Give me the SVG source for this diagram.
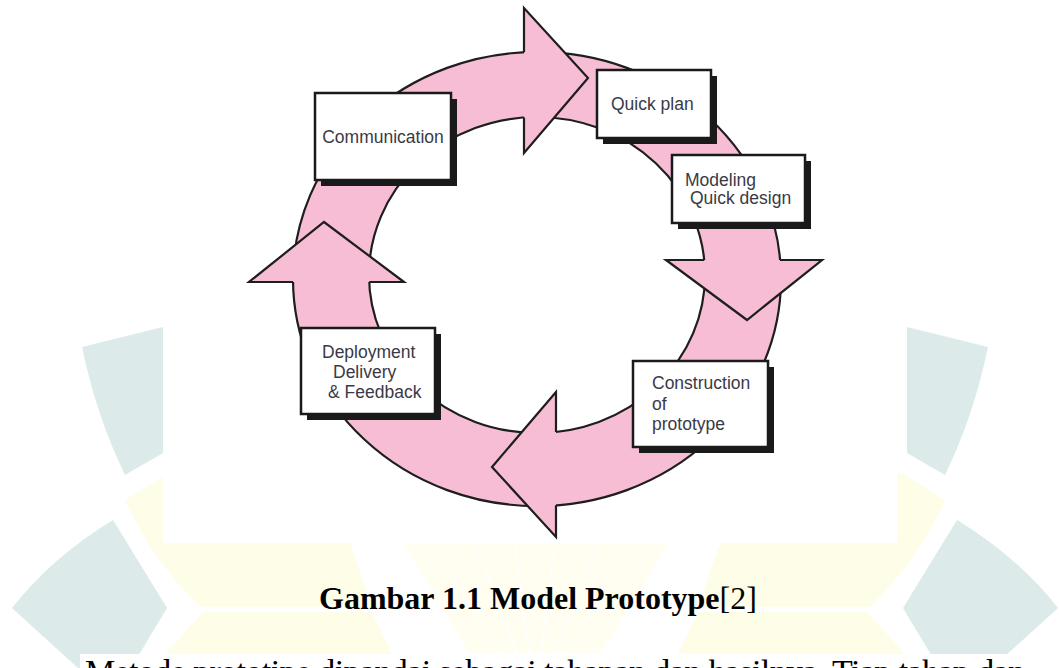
<svg xmlns="http://www.w3.org/2000/svg" width="1059" height="668" viewBox="0 0 1059 668">
<defs>
<style>
.teal{fill:#DCEBE9}
.yel{fill:#FEFDE8}
.ring{fill:#F6BDD5;stroke:#1e1e1e;stroke-width:2.2;stroke-linejoin:miter}
.head{fill:#F6BDD5;stroke:#1e1e1e;stroke-width:2.2;stroke-linejoin:miter}
.shadow{fill:#1a1a1a}
.box{fill:#ffffff;stroke:#1a1a1a;stroke-width:2.5}
.lbl{font-family:"Liberation Sans",Arial,sans-serif;font-size:17.5px;fill:#3a3a46}
.cap{font-family:"Liberation Serif","Times New Roman",serif;font-size:32px;fill:#000}
.body{font-family:"Liberation Serif","Times New Roman",serif;font-size:34px;fill:#000}
</style>
</defs>
<rect x="0" y="0" width="1059" height="668" fill="#ffffff"/>
<g id="watermark">
  <g id="wm-left">
    <path class="teal" d="M163,327 L82,347 Q96,415 125,475 L163,453 Z"/>
    <path class="yel" d="M125,500 L170,472 L350,543 L372,607 L200,607 Q152,560 125,500 Z"/>
    <path class="yel" d="M203,612 L372,612 L392,654 L165,654 Z"/>
    <path class="teal" d="M113,520 L167,608 L131,668 L78,668 L12,608 Q52,557 113,520 Z"/>
  </g>
  <g id="wm-right" transform="matrix(-1 0 0 1 1070 0)">
    <path class="teal" d="M163,327 L82,347 Q96,415 125,475 L163,453 Z"/>
    <path class="yel" d="M125,500 L170,472 L350,543 L372,607 L200,607 Q152,560 125,500 Z"/>
    <path class="yel" d="M203,612 L372,612 L392,654 L165,654 Z"/>
    <path class="teal" d="M113,520 L167,608 L131,668 L78,668 L12,608 Q52,557 113,520 Z"/>
  </g>
  <path fill="#FFFEF0" d="M404,543 L669,543 L600,654 L470,654 Z"/>
  <g stroke="#ffffff" stroke-width="1.5">
    <line x1="535" y1="700" x2="430" y2="543"/>
    <line x1="535" y1="700" x2="475" y2="543"/>
    <line x1="535" y1="700" x2="515" y2="543"/>
    <line x1="535" y1="700" x2="555" y2="543"/>
    <line x1="535" y1="700" x2="598" y2="543"/>
    <line x1="535" y1="700" x2="640" y2="543"/>
  </g>
</g>
<rect x="163" y="0" width="734" height="543" fill="#ffffff"/>
<g id="connectors">
  <path class="ring" fill-rule="evenodd" d="M293,279 A244,227 0 1,0 781,279 A244,227 0 1,0 293,279 Z M369,275 A168,158 0 1,0 705,275 A168,158 0 1,0 369,275 Z"/>
  <path class="head" d="M524,52.3 L524,8 L588,78 L524,153 L524,117.5"/>
  <path class="head" d="M780,260 L822,260 L747,320 L666,260 L704.2,260"/>
  <path class="head" d="M556,505.3 L556,537 L492,467 L556,392 L556,432"/>
  <path class="head" d="M293,282 L249,282 L324,222 L404,282 L369.2,282"/>
</g>
<g id="communication">
  <rect class="shadow" x="321" y="99" width="136" height="87"/>
  <rect class="box" x="315" y="93" width="136" height="87"/>
  <text class="lbl" x="383" y="143" text-anchor="middle">Communication</text>
</g>
<g id="quick-plan">
  <rect class="shadow" x="603" y="76" width="114" height="68"/>
  <rect class="box" x="597" y="70" width="114" height="68"/>
  <text class="lbl" x="611" y="110">Quick plan</text>
</g>
<g id="modeling">
  <rect class="shadow" x="678" y="161" width="133" height="68"/>
  <rect class="box" x="672" y="155" width="133" height="68"/>
  <text class="lbl" x="685" y="186">Modeling</text>
  <text class="lbl" x="690" y="204">Quick design</text>
</g>
<g id="construction">
  <rect class="shadow" x="639" y="367" width="135" height="86"/>
  <rect class="box" x="633" y="361" width="135" height="86"/>
  <text class="lbl" x="652" y="389">Construction</text>
  <text class="lbl" x="652" y="410">of</text>
  <text class="lbl" x="652" y="430">prototype</text>
</g>
<g id="deployment">
  <rect class="shadow" x="307" y="334" width="134" height="86"/>
  <rect class="box" x="301" y="328" width="134" height="86"/>
  <text class="lbl" x="322" y="358">Deployment</text>
  <text class="lbl" x="333" y="378">Delivery</text>
  <text class="lbl" x="328" y="398">&amp; Feedback</text>
</g>
<g id="caption">
  <text class="cap" x="319" y="609"><tspan font-weight="bold">Gambar 1.1 Model Prototype</tspan><tspan>[2]</tspan></text>
</g>
<rect x="80" y="654" width="979" height="14" fill="#ffffff"/>
<text class="body" x="85" y="683" textLength="940" lengthAdjust="spacing">Metode prototipe dipandai sebagai tahapan dan hasilnya. Tiap tahap dan</text>
</svg>
